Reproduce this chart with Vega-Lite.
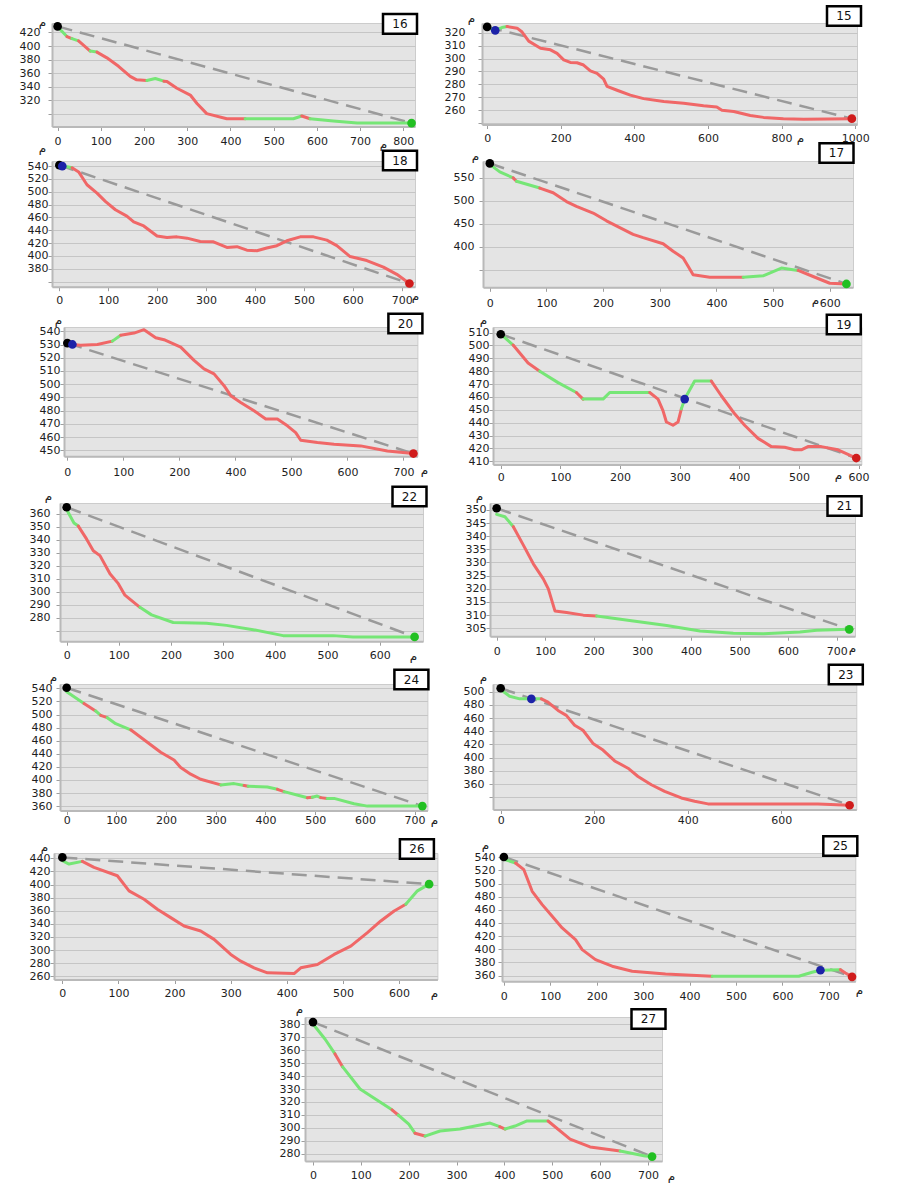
{
"$schema":"https://vega.github.io/schema/vega-lite/v6.json",
"background":"white",
"padding":{"left":2,"top":0,"right":5,"bottom":2},
"autosize":{"type":"pad"},
"bounds":"full","spacing":-40,
"datasets":{
"L":[
{"p":16,"s":1,"c":"g","d":0,"e":428.5},{"p":16,"s":1,"c":"g","d":21.6,"e":414},
{"p":16,"s":2,"c":"r","d":21.6,"e":414},{"p":16,"s":2,"c":"r","d":33,"e":411},
{"p":16,"s":3,"c":"g","d":33,"e":411},{"p":16,"s":3,"c":"g","d":48.5,"e":407.5},
{"p":16,"s":4,"c":"r","d":48.5,"e":407.5},{"p":16,"s":4,"c":"r","d":75.5,"e":392.5},
{"p":16,"s":5,"c":"g","d":75.5,"e":392.5},{"p":16,"s":5,"c":"g","d":91,"e":391},
{"p":16,"s":6,"c":"r","d":91,"e":391},{"p":16,"s":6,"c":"r","d":114,"e":382.5},{"p":16,"s":6,"c":"r","d":141,"e":370},{"p":16,"s":6,"c":"r","d":168,"e":355},{"p":16,"s":6,"c":"r","d":183,"e":350},{"p":16,"s":6,"c":"r","d":206.5,"e":349},
{"p":16,"s":7,"c":"g","d":206.5,"e":349},{"p":16,"s":7,"c":"g","d":226,"e":352},{"p":16,"s":7,"c":"g","d":246,"e":348},
{"p":16,"s":8,"c":"r","d":246,"e":348},{"p":16,"s":8,"c":"r","d":253,"e":347.5},{"p":16,"s":8,"c":"r","d":276,"e":337.5},{"p":16,"s":8,"c":"r","d":307,"e":327.5},{"p":16,"s":8,"c":"r","d":322.5,"e":315},{"p":16,"s":8,"c":"r","d":345,"e":300},{"p":16,"s":8,"c":"r","d":391.5,"e":292.5},{"p":16,"s":8,"c":"r","d":434,"e":292.5},
{"p":16,"s":9,"c":"g","d":434,"e":292.5},{"p":16,"s":9,"c":"g","d":545.5,"e":292.5},{"p":16,"s":9,"c":"g","d":565,"e":296.5},
{"p":16,"s":10,"c":"r","d":565,"e":296.5},{"p":16,"s":10,"c":"r","d":584,"e":292.5},
{"p":16,"s":11,"c":"g","d":584,"e":292.5},{"p":16,"s":11,"c":"g","d":638,"e":289},{"p":16,"s":11,"c":"g","d":693,"e":286},{"p":16,"s":11,"c":"g","d":819,"e":286},

{"p":15,"s":1,"c":"g","d":0,"e":324},{"p":15,"s":1,"c":"g","d":22,"e":322},{"p":15,"s":1,"c":"g","d":40,"e":324},{"p":15,"s":1,"c":"g","d":54,"e":324.75},
{"p":15,"s":2,"c":"r","d":54,"e":324.75},{"p":15,"s":2,"c":"r","d":81.4,"e":323.5},{"p":15,"s":2,"c":"r","d":95,"e":320.5},{"p":15,"s":2,"c":"r","d":113,"e":313.5},{"p":15,"s":2,"c":"r","d":145,"e":308},{"p":15,"s":2,"c":"r","d":172,"e":306.75},{"p":15,"s":2,"c":"r","d":190,"e":304},{"p":15,"s":2,"c":"r","d":208,"e":299},{"p":15,"s":2,"c":"r","d":226,"e":297},{"p":15,"s":2,"c":"r","d":244,"e":296.75},{"p":15,"s":2,"c":"r","d":262,"e":295},{"p":15,"s":2,"c":"r","d":280.5,"e":290.5},{"p":15,"s":2,"c":"r","d":298.6,"e":288.5},{"p":15,"s":2,"c":"r","d":316.7,"e":284},{"p":15,"s":2,"c":"r","d":325.8,"e":278.5},{"p":15,"s":2,"c":"r","d":353,"e":275.5},{"p":15,"s":2,"c":"r","d":389,"e":271.75},{"p":15,"s":2,"c":"r","d":425,"e":269},{"p":15,"s":2,"c":"r","d":480,"e":266.75},{"p":15,"s":2,"c":"r","d":534,"e":265.5},{"p":15,"s":2,"c":"r","d":588,"e":263.5},{"p":15,"s":2,"c":"r","d":624,"e":262.5},{"p":15,"s":2,"c":"r","d":638,"e":260},{"p":15,"s":2,"c":"r","d":670,"e":259},{"p":15,"s":2,"c":"r","d":715,"e":256},{"p":15,"s":2,"c":"r","d":751,"e":254.5},{"p":15,"s":2,"c":"r","d":805,"e":253.5},{"p":15,"s":2,"c":"r","d":860,"e":253},{"p":15,"s":2,"c":"r","d":991,"e":253.5},

{"p":18,"s":1,"c":"g","d":0,"e":541.5},{"p":18,"s":1,"c":"g","d":6,"e":540},{"p":18,"s":1,"c":"g","d":16,"e":539},{"p":18,"s":1,"c":"g","d":26,"e":537.5},
{"p":18,"s":2,"c":"r","d":26,"e":537.5},{"p":18,"s":2,"c":"r","d":39.5,"e":531},{"p":18,"s":2,"c":"r","d":56.5,"e":511},{"p":18,"s":2,"c":"r","d":77,"e":498},{"p":18,"s":2,"c":"r","d":94,"e":485},{"p":18,"s":2,"c":"r","d":114.6,"e":472},{"p":18,"s":2,"c":"r","d":138,"e":462},{"p":18,"s":2,"c":"r","d":152,"e":453},{"p":18,"s":2,"c":"r","d":172.5,"e":446.7},{"p":18,"s":2,"c":"r","d":199.7,"e":431},{"p":18,"s":2,"c":"r","d":220,"e":428.7},{"p":18,"s":2,"c":"r","d":240.5,"e":429.7},{"p":18,"s":2,"c":"r","d":261,"e":427.7},{"p":18,"s":2,"c":"r","d":288,"e":422.6},{"p":18,"s":2,"c":"r","d":315,"e":422},{"p":18,"s":2,"c":"r","d":342.5,"e":413.3},{"p":18,"s":2,"c":"r","d":363,"e":414.4},{"p":18,"s":2,"c":"r","d":383.4,"e":409},{"p":18,"s":2,"c":"r","d":403.8,"e":408},{"p":18,"s":2,"c":"r","d":424,"e":412.3},{"p":18,"s":2,"c":"r","d":444.6,"e":415.9},{"p":18,"s":2,"c":"r","d":465,"e":423.6},{"p":18,"s":2,"c":"r","d":492.3,"e":429.7},{"p":18,"s":2,"c":"r","d":519.5,"e":429.7},{"p":18,"s":2,"c":"r","d":546.8,"e":424.6},{"p":18,"s":2,"c":"r","d":567.2,"e":416},{"p":18,"s":2,"c":"r","d":594.4,"e":399},{"p":18,"s":2,"c":"r","d":628.5,"e":392.8},{"p":18,"s":2,"c":"r","d":662.5,"e":382.6},{"p":18,"s":2,"c":"r","d":689.8,"e":371.3},{"p":18,"s":2,"c":"r","d":715.6,"e":357},

{"p":17,"s":1,"c":"g","d":0,"e":579.4},{"p":17,"s":1,"c":"g","d":17.6,"e":563.2},{"p":17,"s":1,"c":"g","d":41.2,"e":550},
{"p":17,"s":2,"c":"r","d":41.2,"e":550},{"p":17,"s":2,"c":"r","d":47.1,"e":542.6},
{"p":17,"s":3,"c":"g","d":47.1,"e":542.6},{"p":17,"s":3,"c":"g","d":88.2,"e":527.9},
{"p":17,"s":4,"c":"r","d":88.2,"e":527.9},{"p":17,"s":4,"c":"r","d":111.8,"e":517.6},{"p":17,"s":4,"c":"r","d":135.3,"e":498.5},{"p":17,"s":4,"c":"r","d":152.9,"e":488.2},{"p":17,"s":4,"c":"r","d":182.4,"e":473.5},{"p":17,"s":4,"c":"r","d":205.9,"e":456.6},{"p":17,"s":4,"c":"r","d":229.4,"e":441.9},{"p":17,"s":4,"c":"r","d":252.9,"e":427.2},{"p":17,"s":4,"c":"r","d":270.6,"e":419.9},{"p":17,"s":4,"c":"r","d":305.9,"e":406.6},{"p":17,"s":4,"c":"r","d":323.5,"e":390.4},{"p":17,"s":4,"c":"r","d":341.2,"e":375.7},{"p":17,"s":4,"c":"r","d":350,"e":357.4},{"p":17,"s":4,"c":"r","d":358.8,"e":339},{"p":17,"s":4,"c":"r","d":388.2,"e":333.8},{"p":17,"s":4,"c":"r","d":447.1,"e":333.8},
{"p":17,"s":5,"c":"g","d":447.1,"e":333.8},{"p":17,"s":5,"c":"g","d":482.4,"e":336.8},{"p":17,"s":5,"c":"g","d":514.7,"e":353.7},{"p":17,"s":5,"c":"g","d":544.1,"e":348.5},
{"p":17,"s":6,"c":"r","d":544.1,"e":348.5},{"p":17,"s":6,"c":"r","d":570.6,"e":335.3},{"p":17,"s":6,"c":"r","d":600,"e":320.6},{"p":17,"s":6,"c":"r","d":629.4,"e":319.1},

{"p":20,"s":1,"c":"r","d":0,"e":531.1},{"p":20,"s":1,"c":"r","d":9,"e":530.1},{"p":20,"s":1,"c":"r","d":23.8,"e":529.4},{"p":20,"s":1,"c":"r","d":53.6,"e":530.1},{"p":20,"s":1,"c":"r","d":80.4,"e":532.6},
{"p":20,"s":2,"c":"g","d":80.4,"e":532.6},{"p":20,"s":2,"c":"g","d":95.2,"e":537},
{"p":20,"s":3,"c":"r","d":95.2,"e":537},{"p":20,"s":3,"c":"r","d":119,"e":538.7},{"p":20,"s":3,"c":"r","d":136.9,"e":541.3},{"p":20,"s":3,"c":"r","d":157.7,"e":535.2},{"p":20,"s":3,"c":"r","d":172.6,"e":533.7},{"p":20,"s":3,"c":"r","d":202.4,"e":528.1},{"p":20,"s":3,"c":"r","d":226.2,"e":518},{"p":20,"s":3,"c":"r","d":244,"e":511.6},{"p":20,"s":3,"c":"r","d":261.9,"e":507.8},{"p":20,"s":3,"c":"r","d":279.8,"e":498.9},{"p":20,"s":3,"c":"r","d":291.7,"e":491.3},{"p":20,"s":3,"c":"r","d":309.5,"e":486.2},{"p":20,"s":3,"c":"r","d":333.3,"e":479.9},{"p":20,"s":3,"c":"r","d":354.2,"e":473.6},{"p":20,"s":3,"c":"r","d":375,"e":473.6},{"p":20,"s":3,"c":"r","d":392.9,"e":468.5},{"p":20,"s":3,"c":"r","d":407.7,"e":463.4},{"p":20,"s":3,"c":"r","d":416.7,"e":457.6},{"p":20,"s":3,"c":"r","d":446.4,"e":455.8},{"p":20,"s":3,"c":"r","d":476.2,"e":454.6},{"p":20,"s":3,"c":"r","d":523.8,"e":453.3},{"p":20,"s":3,"c":"r","d":571.4,"e":449.5},{"p":20,"s":3,"c":"r","d":617.9,"e":447.5},

{"p":19,"s":1,"c":"g","d":0,"e":508.7},{"p":19,"s":1,"c":"g","d":20.7,"e":500.3},
{"p":19,"s":2,"c":"r","d":20.7,"e":500.3},{"p":19,"s":2,"c":"r","d":45.8,"e":486.3},{"p":19,"s":2,"c":"r","d":65.4,"e":480},
{"p":19,"s":3,"c":"g","d":65.4,"e":480},{"p":19,"s":3,"c":"g","d":96.1,"e":471.1},{"p":19,"s":3,"c":"g","d":126.8,"e":463.4},
{"p":19,"s":4,"c":"r","d":126.8,"e":463.4},{"p":19,"s":4,"c":"r","d":138,"e":458.3},
{"p":19,"s":5,"c":"g","d":138,"e":458.3},{"p":19,"s":5,"c":"g","d":171.5,"e":458.3},{"p":19,"s":5,"c":"g","d":182.7,"e":463.4},{"p":19,"s":5,"c":"g","d":249.7,"e":463.4},
{"p":19,"s":6,"c":"r","d":249.7,"e":463.4},{"p":19,"s":6,"c":"r","d":263.7,"e":458.3},{"p":19,"s":6,"c":"r","d":272,"e":449.4},{"p":19,"s":6,"c":"r","d":277.7,"e":440.5},{"p":19,"s":6,"c":"r","d":288.8,"e":438},{"p":19,"s":6,"c":"r","d":297.2,"e":440.5},{"p":19,"s":6,"c":"r","d":302.8,"e":450.7},
{"p":19,"s":7,"c":"g","d":302.8,"e":450.7},{"p":19,"s":7,"c":"g","d":308.4,"e":458.3},{"p":19,"s":7,"c":"g","d":325.1,"e":472.3},{"p":19,"s":7,"c":"g","d":353.1,"e":472.3},
{"p":19,"s":8,"c":"r","d":353.1,"e":472.3},{"p":19,"s":8,"c":"r","d":369.8,"e":460.9},{"p":19,"s":8,"c":"r","d":392.2,"e":446.9},{"p":19,"s":8,"c":"r","d":408.9,"e":438},{"p":19,"s":8,"c":"r","d":431.3,"e":427.8},{"p":19,"s":8,"c":"r","d":453.6,"e":421.4},{"p":19,"s":8,"c":"r","d":476,"e":420.9},{"p":19,"s":8,"c":"r","d":492.7,"e":418.9},{"p":19,"s":8,"c":"r","d":503.9,"e":418.9},{"p":19,"s":8,"c":"r","d":515.1,"e":421.4},{"p":19,"s":8,"c":"r","d":537.4,"e":421.4},{"p":19,"s":8,"c":"r","d":565.4,"e":418.9},{"p":19,"s":8,"c":"r","d":596.1,"e":412.5},

{"p":22,"s":1,"c":"g","d":0,"e":364},{"p":22,"s":1,"c":"g","d":3.2,"e":360.8},{"p":22,"s":1,"c":"g","d":14,"e":353},{"p":22,"s":1,"c":"g","d":22.3,"e":350.6},
{"p":22,"s":2,"c":"r","d":22.3,"e":350.6},{"p":22,"s":2,"c":"r","d":38.3,"e":340.5},{"p":22,"s":2,"c":"r","d":51,"e":331.6},{"p":22,"s":2,"c":"r","d":63.8,"e":327.8},{"p":22,"s":2,"c":"r","d":83,"e":313.8},{"p":22,"s":2,"c":"r","d":99,"e":306.2},{"p":22,"s":2,"c":"r","d":111.7,"e":297.3},{"p":22,"s":2,"c":"r","d":140.4,"e":287.9},
{"p":22,"s":3,"c":"g","d":140.4,"e":287.9},{"p":22,"s":3,"c":"g","d":162.7,"e":282.1},{"p":22,"s":3,"c":"g","d":204.2,"e":276.2},{"p":22,"s":3,"c":"g","d":268,"e":275.7},{"p":22,"s":3,"c":"g","d":306.3,"e":274},{"p":22,"s":3,"c":"g","d":357.4,"e":270.7},{"p":22,"s":3,"c":"g","d":414.8,"e":266.1},{"p":22,"s":3,"c":"g","d":510.5,"e":266.1},{"p":22,"s":3,"c":"g","d":548.8,"e":265.1},{"p":22,"s":3,"c":"g","d":666.9,"e":265.1},

{"p":21,"s":1,"c":"g","d":0,"e":348.3},{"p":21,"s":1,"c":"g","d":17,"e":347.4},{"p":21,"s":1,"c":"g","d":34.3,"e":343.6},
{"p":21,"s":2,"c":"r","d":34.3,"e":343.6},{"p":21,"s":2,"c":"r","d":55,"e":336.6},{"p":21,"s":2,"c":"r","d":75.5,"e":329.5},{"p":21,"s":2,"c":"r","d":96,"e":323.8},{"p":21,"s":2,"c":"r","d":106.4,"e":320},{"p":21,"s":2,"c":"r","d":120,"e":311.6},{"p":21,"s":2,"c":"r","d":144,"e":311},{"p":21,"s":2,"c":"r","d":178.4,"e":310},{"p":21,"s":2,"c":"r","d":206,"e":309.7},
{"p":21,"s":3,"c":"g","d":206,"e":309.7},{"p":21,"s":3,"c":"g","d":281.4,"e":307.8},{"p":21,"s":3,"c":"g","d":350,"e":306.1},{"p":21,"s":3,"c":"g","d":418.7,"e":304},{"p":21,"s":3,"c":"g","d":487.3,"e":303.1},{"p":21,"s":3,"c":"g","d":549,"e":302.9},{"p":21,"s":3,"c":"g","d":624.6,"e":303.6},{"p":21,"s":3,"c":"g","d":658.9,"e":304.3},{"p":21,"s":3,"c":"g","d":726,"e":304.6},

{"p":24,"s":1,"c":"g","d":0,"e":535},{"p":24,"s":1,"c":"g","d":34.9,"e":516.9},
{"p":24,"s":2,"c":"r","d":34.9,"e":516.9},{"p":24,"s":2,"c":"r","d":58.3,"e":505.5},
{"p":24,"s":3,"c":"g","d":58.3,"e":505.5},{"p":24,"s":3,"c":"g","d":68.4,"e":498.8},
{"p":24,"s":4,"c":"r","d":68.4,"e":498.8},{"p":24,"s":4,"c":"r","d":81.8,"e":495.2},
{"p":24,"s":5,"c":"g","d":81.8,"e":495.2},{"p":24,"s":5,"c":"g","d":98.6,"e":486},{"p":24,"s":5,"c":"g","d":128.8,"e":476.7},
{"p":24,"s":6,"c":"r","d":128.8,"e":476.7},{"p":24,"s":6,"c":"r","d":162.3,"e":457.7},{"p":24,"s":6,"c":"r","d":189.1,"e":442.3},{"p":24,"s":6,"c":"r","d":216,"e":430.4},{"p":24,"s":6,"c":"r","d":229.4,"e":419.1},{"p":24,"s":6,"c":"r","d":249.5,"e":408.8},{"p":24,"s":6,"c":"r","d":269.6,"e":401.1},{"p":24,"s":6,"c":"r","d":309.9,"e":392.4},
{"p":24,"s":7,"c":"g","d":309.9,"e":392.4},{"p":24,"s":7,"c":"g","d":336.8,"e":394.4},{"p":24,"s":7,"c":"g","d":357,"e":391.5},
{"p":24,"s":8,"c":"r","d":357,"e":391.5},{"p":24,"s":8,"c":"r","d":365,"e":390.3},
{"p":24,"s":9,"c":"g","d":365,"e":390.3},{"p":24,"s":9,"c":"g","d":403.8,"e":389.3},{"p":24,"s":9,"c":"g","d":424,"e":385.7},
{"p":24,"s":10,"c":"r","d":424,"e":385.7},{"p":24,"s":10,"c":"r","d":437.4,"e":382.1},
{"p":24,"s":11,"c":"g","d":437.4,"e":382.1},{"p":24,"s":11,"c":"g","d":471,"e":375.4},{"p":24,"s":11,"c":"g","d":484.4,"e":372.8},
{"p":24,"s":12,"c":"r","d":484.4,"e":372.8},{"p":24,"s":12,"c":"r","d":494,"e":373.5},
{"p":24,"s":13,"c":"g","d":494,"e":373.5},{"p":24,"s":13,"c":"g","d":504,"e":375.4},{"p":24,"s":13,"c":"g","d":511,"e":373},
{"p":24,"s":14,"c":"r","d":511,"e":373},{"p":24,"s":14,"c":"r","d":524,"e":371.8},
{"p":24,"s":15,"c":"g","d":524,"e":371.8},{"p":24,"s":15,"c":"g","d":538,"e":371.8},{"p":24,"s":15,"c":"g","d":578.2,"e":363.6},{"p":24,"s":15,"c":"g","d":605,"e":360},{"p":24,"s":15,"c":"g","d":715.6,"e":360},

{"p":23,"s":1,"c":"g","d":0,"e":503},{"p":23,"s":1,"c":"g","d":19.2,"e":493},{"p":23,"s":1,"c":"g","d":40.6,"e":489},{"p":23,"s":1,"c":"g","d":65.6,"e":489},{"p":23,"s":1,"c":"g","d":87,"e":489},
{"p":23,"s":2,"c":"r","d":87,"e":489},{"p":23,"s":2,"c":"r","d":101.2,"e":484},{"p":23,"s":2,"c":"r","d":122.6,"e":471.5},{"p":23,"s":2,"c":"r","d":140.4,"e":464},{"p":23,"s":2,"c":"r","d":158.2,"e":449},{"p":23,"s":2,"c":"r","d":176,"e":441.5},{"p":23,"s":2,"c":"r","d":197.4,"e":421.5},{"p":23,"s":2,"c":"r","d":218.8,"e":411.5},{"p":23,"s":2,"c":"r","d":243.8,"e":395},{"p":23,"s":2,"c":"r","d":272.3,"e":384},{"p":23,"s":2,"c":"r","d":293.7,"e":371.5},{"p":23,"s":2,"c":"r","d":322.2,"e":359},{"p":23,"s":2,"c":"r","d":350.7,"e":349},{"p":23,"s":2,"c":"r","d":386.3,"e":339},{"p":23,"s":2,"c":"r","d":414.8,"e":334},{"p":23,"s":2,"c":"r","d":443.3,"e":330},{"p":23,"s":2,"c":"r","d":678.5,"e":330},{"p":23,"s":2,"c":"r","d":746.2,"e":328},

{"p":26,"s":1,"c":"g","d":0,"e":436.4},{"p":26,"s":1,"c":"g","d":11.9,"e":431.3},{"p":26,"s":1,"c":"g","d":35.6,"e":435.4},
{"p":26,"s":2,"c":"r","d":35.6,"e":435.4},{"p":26,"s":2,"c":"r","d":56.4,"e":426.2},{"p":26,"s":2,"c":"r","d":98,"e":413.4},{"p":26,"s":2,"c":"r","d":118.8,"e":390.4},{"p":26,"s":2,"c":"r","d":145.6,"e":377.6},{"p":26,"s":2,"c":"r","d":169.3,"e":362.3},{"p":26,"s":2,"c":"r","d":193.1,"e":349.5},{"p":26,"s":2,"c":"r","d":216.9,"e":336.7},{"p":26,"s":2,"c":"r","d":246.6,"e":329},{"p":26,"s":2,"c":"r","d":270.4,"e":316.3},{"p":26,"s":2,"c":"r","d":300.1,"e":293.3},{"p":26,"s":2,"c":"r","d":318,"e":283},{"p":26,"s":2,"c":"r","d":341.7,"e":272.8},{"p":26,"s":2,"c":"r","d":365.5,"e":265.2},{"p":26,"s":2,"c":"r","d":413,"e":264.1},{"p":26,"s":2,"c":"r","d":424.9,"e":272.8},{"p":26,"s":2,"c":"r","d":454.6,"e":277.9},{"p":26,"s":2,"c":"r","d":484.3,"e":293.3},{"p":26,"s":2,"c":"r","d":514,"e":306},{"p":26,"s":2,"c":"r","d":543.7,"e":326.5},{"p":26,"s":2,"c":"r","d":567.5,"e":344.4},{"p":26,"s":2,"c":"r","d":591.3,"e":359.7},{"p":26,"s":2,"c":"r","d":612.1,"e":370},
{"p":26,"s":3,"c":"g","d":612.1,"e":370},{"p":26,"s":3,"c":"g","d":632.8,"e":390.4},{"p":26,"s":3,"c":"g","d":653.6,"e":400.6},

{"p":25,"s":1,"c":"g","d":0,"e":537},{"p":25,"s":1,"c":"g","d":25.1,"e":531.4},
{"p":25,"s":2,"c":"r","d":25.1,"e":531.4},{"p":25,"s":2,"c":"r","d":43.1,"e":521.2},{"p":25,"s":2,"c":"r","d":61,"e":488.3},{"p":25,"s":2,"c":"r","d":82.6,"e":468},{"p":25,"s":2,"c":"r","d":104.1,"e":450.2},{"p":25,"s":2,"c":"r","d":125.6,"e":432.5},{"p":25,"s":2,"c":"r","d":154.3,"e":414.7},{"p":25,"s":2,"c":"r","d":168.7,"e":399.5},{"p":25,"s":2,"c":"r","d":197.4,"e":384.3},{"p":25,"s":2,"c":"r","d":233.3,"e":374.2},{"p":25,"s":2,"c":"r","d":276.4,"e":366.6},{"p":25,"s":2,"c":"r","d":348.2,"e":362.5},{"p":25,"s":2,"c":"r","d":448.7,"e":359},
{"p":25,"s":3,"c":"g","d":448.7,"e":359},{"p":25,"s":3,"c":"g","d":635.3,"e":359},{"p":25,"s":3,"c":"g","d":664,"e":365},{"p":25,"s":3,"c":"g","d":681.9,"e":368.1},{"p":25,"s":3,"c":"g","d":725,"e":369},
{"p":25,"s":4,"c":"r","d":725,"e":369},{"p":25,"s":4,"c":"r","d":735.8,"e":364},{"p":25,"s":4,"c":"r","d":750,"e":358},

{"p":27,"s":1,"c":"g","d":0,"e":380},{"p":27,"s":1,"c":"g","d":25,"e":368.5},{"p":27,"s":1,"c":"g","d":46,"e":357},
{"p":27,"s":2,"c":"r","d":46,"e":357},{"p":27,"s":2,"c":"r","d":62,"e":347},
{"p":27,"s":3,"c":"g","d":62,"e":347},{"p":27,"s":3,"c":"g","d":98.2,"e":330},{"p":27,"s":3,"c":"g","d":140,"e":320},{"p":27,"s":3,"c":"g","d":165,"e":314},
{"p":27,"s":4,"c":"r","d":165,"e":314},{"p":27,"s":4,"c":"r","d":178,"e":310},
{"p":27,"s":5,"c":"g","d":178,"e":310},{"p":27,"s":5,"c":"g","d":200,"e":303},{"p":27,"s":5,"c":"g","d":213,"e":296},
{"p":27,"s":6,"c":"r","d":213,"e":296},{"p":27,"s":6,"c":"r","d":234,"e":293.8},
{"p":27,"s":7,"c":"g","d":234,"e":293.8},{"p":27,"s":7,"c":"g","d":265.4,"e":297.7},{"p":27,"s":7,"c":"g","d":307.1,"e":299.2},{"p":27,"s":7,"c":"g","d":349,"e":302.3},{"p":27,"s":7,"c":"g","d":369.9,"e":303.8},{"p":27,"s":7,"c":"g","d":390,"e":301},
{"p":27,"s":8,"c":"r","d":390,"e":301},{"p":27,"s":8,"c":"r","d":401.2,"e":299.2},
{"p":27,"s":9,"c":"g","d":401.2,"e":299.2},{"p":27,"s":9,"c":"g","d":422,"e":301.5},{"p":27,"s":9,"c":"g","d":447.1,"e":305.4},{"p":27,"s":9,"c":"g","d":491,"e":305.4},
{"p":27,"s":10,"c":"r","d":491,"e":305.4},{"p":27,"s":10,"c":"r","d":537,"e":291.5},{"p":27,"s":10,"c":"r","d":578.8,"e":285.4},{"p":27,"s":10,"c":"r","d":641.5,"e":282.3},
{"p":27,"s":11,"c":"g","d":641.5,"e":282.3},{"p":27,"s":11,"c":"g","d":693.7,"e":278.5},{"p":27,"s":11,"c":"g","d":708.3,"e":278}
],
"P":[
{"p":16,"k":"K","d":0,"e":429},{"p":16,"k":"G","d":819,"e":286},
{"p":15,"k":"K","d":0,"e":324.5},{"p":15,"k":"B","d":22,"e":321.75},{"p":15,"k":"R","d":991,"e":253.5},
{"p":18,"k":"K","d":0,"e":541.5},{"p":18,"k":"B","d":6,"e":540},{"p":18,"k":"R","d":715.6,"e":357},
{"p":17,"k":"K","d":0,"e":581.6},{"p":17,"k":"G","d":629.4,"e":319.1},
{"p":20,"k":"K","d":0,"e":531.1},{"p":20,"k":"B","d":9,"e":530.1},{"p":20,"k":"R","d":617.9,"e":447.5},
{"p":19,"k":"K","d":0,"e":508.7},{"p":19,"k":"B","d":308.4,"e":458.3},{"p":19,"k":"R","d":596.1,"e":412.5},
{"p":22,"k":"K","d":0,"e":365.1},{"p":22,"k":"G","d":666.9,"e":265.1},
{"p":21,"k":"K","d":0,"e":350.6},{"p":21,"k":"G","d":726,"e":304.6},
{"p":24,"k":"K","d":0,"e":541},{"p":24,"k":"G","d":715.6,"e":360},
{"p":23,"k":"K","d":0,"e":505},{"p":23,"k":"B","d":65.6,"e":489},{"p":23,"k":"R","d":746.2,"e":328},
{"p":26,"k":"K","d":0,"e":441.5},{"p":26,"k":"G","d":653.6,"e":400.6},
{"p":25,"k":"K","d":0,"e":540.5},{"p":25,"k":"B","d":681.9,"e":368.1},{"p":25,"k":"R","d":750,"e":358},
{"p":27,"k":"K","d":0,"e":381.5},{"p":27,"k":"G","d":708.3,"e":278}
]
},
"vconcat":[
{"bounds":"flush","spacing":0,"hconcat":[
 {"width":50,"height":138,"data":{"values":[{}]},"mark":{"type":"point","opacity":0,"size":1},"encoding":{"y":{"value":-22}},"view":{"fill":null,"stroke":null}},
 {"width":363,"height":103.5,
  "encoding":{"x":{"field":"d","type":"quantitative","scale":{"domain":[-13,827],"nice":false,"zero":false},"axis":{"values":[0,100,200,300,400,500,600,700,800],"format":"d","title":"م","titleX":331,"titleY":17,"labelPadding":5}},
   "y":{"field":"e","type":"quantitative","scale":{"domain":[281,434],"nice":false,"zero":false},"axis":{"values":[300,320,340,360,380,400,420],"labelExpr":"datum.value==300?'':datum.label","title":"م","titleX":-10,"titleY":-2,"labelPadding":8}}},
  "layer":[
   {"data":{"name":"P"},"transform":[{"filter":"datum.p==16 && datum.k!='B'"}],"mark":{"type":"line","color":"#9a9a9a","strokeWidth":2.5,"strokeDash":[15,8]},"encoding":{"order":{"field":"d"}}},
   {"data":{"name":"L"},"transform":[{"filter":"datum.p==16"}],"mark":{"type":"line","strokeWidth":3,"strokeCap":"round","strokeJoin":"round"},"encoding":{"color":{"field":"c","type":"nominal","scale":{"domain":["r","g","K","G","R","B"],"range":["#f06767","#76e676","#000000","#22c022","#d01c1c","#1c22a8"]},"legend":null},"detail":{"field":"s"},"order":{"field":"d"}}},
   {"data":{"name":"P"},"transform":[{"filter":"datum.p==16"}],"mark":{"type":"circle","size":75,"opacity":1},"encoding":{"color":{"field":"k","type":"nominal","scale":{"domain":["r","g","K","G","R","B"],"range":["#f06767","#76e676","#000000","#22c022","#d01c1c","#1c22a8"]},"legend":null}}},
   {"data":{"values":[{"n":"16"}]},"mark":{"type":"point","shape":"M-1,-0.58H1V0.58H-1Z","size":1156,"filled":true,"fill":"#ffffff","stroke":"#000000","strokeWidth":2.5,"opacity":1,"xOffset":-15,"yOffset":0.8},"encoding":{"x":{"value":"width"},"y":{"value":0}}},
   {"data":{"values":[{"n":"16"}]},"mark":{"type":"text","font":"DejaVu Sans","fontSize":12,"color":"#111111","xOffset":-15,"yOffset":0.8},"encoding":{"x":{"value":"width"},"y":{"value":0},"text":{"field":"n"}}}
  ]},
 {"width":67,"height":1,"data":{"values":[{}]},"mark":{"type":"text","text":""},"view":{"fill":null,"stroke":null}},
 {"width":375,"height":101.5,
  "encoding":{"x":{"field":"d","type":"quantitative","scale":{"domain":[-14,1005],"nice":false,"zero":false},"axis":{"values":[0,200,400,600,800,1000],"format":"d","title":"م","titleX":318,"titleY":13,"labelPadding":4}},
   "y":{"field":"e","type":"quantitative","scale":{"domain":[249,327.5],"nice":false,"zero":false},"axis":{"values":[250,260,270,280,290,300,310,320],"labelExpr":"datum.value==250?'':datum.label","title":"م","titleX":-11,"titleY":-5.8,"labelPadding":13}}},
  "layer":[
   {"data":{"name":"P"},"transform":[{"filter":"datum.p==15 && datum.k!='B'"}],"mark":{"type":"line","color":"#9a9a9a","strokeWidth":2.5,"strokeDash":[15,8]},"encoding":{"order":{"field":"d"}}},
   {"data":{"name":"L"},"transform":[{"filter":"datum.p==15"}],"mark":{"type":"line","strokeWidth":3,"strokeCap":"round","strokeJoin":"round"},"encoding":{"color":{"field":"c","type":"nominal","scale":{"domain":["r","g","K","G","R","B"],"range":["#f06767","#76e676","#000000","#22c022","#d01c1c","#1c22a8"]},"legend":null},"detail":{"field":"s"},"order":{"field":"d"}}},
   {"data":{"name":"P"},"transform":[{"filter":"datum.p==15"}],"mark":{"type":"circle","size":75,"opacity":1},"encoding":{"color":{"field":"k","type":"nominal","scale":{"domain":["r","g","K","G","R","B"],"range":["#f06767","#76e676","#000000","#22c022","#d01c1c","#1c22a8"]},"legend":null}}},
   {"data":{"values":[{"n":"15"}]},"mark":{"type":"point","shape":"M-1,-0.58H1V0.58H-1Z","size":1156,"filled":true,"fill":"#ffffff","stroke":"#000000","strokeWidth":2.5,"opacity":1,"xOffset":-13,"yOffset":-7},"encoding":{"x":{"value":"width"},"y":{"value":0}}},
   {"data":{"values":[{"n":"15"}]},"mark":{"type":"text","font":"DejaVu Sans","fontSize":12,"color":"#111111","xOffset":-13,"yOffset":-7},"encoding":{"x":{"value":"width"},"y":{"value":0},"text":{"field":"n"}}}
  ]}
]},
{"bounds":"flush","spacing":0,"hconcat":[
 {"width":50,"height":166,"data":{"values":[{}]},"mark":{"type":"point","opacity":0,"size":1},"encoding":{"y":{"value":-22}},"view":{"fill":null,"stroke":null}},
 {"width":363,"height":125.7,
  "encoding":{"x":{"field":"d","type":"quantitative","scale":{"domain":[-15,727],"nice":false,"zero":false},"axis":{"values":[0,100,200,300,400,500,600,700],"format":"d","title":"م","titleX":363,"titleY":9,"labelPadding":4}},
   "y":{"field":"e","type":"quantitative","scale":{"domain":[352,548],"nice":false,"zero":false},"axis":{"values":[360,380,400,420,440,460,480,500,520,540],"labelExpr":"datum.value==360?'':datum.label","title":"م","titleX":-10,"titleY":-14,"labelPadding":0}}},
  "layer":[
   {"data":{"name":"P"},"transform":[{"filter":"datum.p==18 && datum.k!='B'"}],"mark":{"type":"line","color":"#9a9a9a","strokeWidth":2.5,"strokeDash":[15,8]},"encoding":{"order":{"field":"d"}}},
   {"data":{"name":"L"},"transform":[{"filter":"datum.p==18"}],"mark":{"type":"line","strokeWidth":3,"strokeCap":"round","strokeJoin":"round"},"encoding":{"color":{"field":"c","type":"nominal","scale":{"domain":["r","g","K","G","R","B"],"range":["#f06767","#76e676","#000000","#22c022","#d01c1c","#1c22a8"]},"legend":null},"detail":{"field":"s"},"order":{"field":"d"}}},
   {"data":{"name":"P"},"transform":[{"filter":"datum.p==18"}],"mark":{"type":"circle","size":75,"opacity":1},"encoding":{"color":{"field":"k","type":"nominal","scale":{"domain":["r","g","K","G","R","B"],"range":["#f06767","#76e676","#000000","#22c022","#d01c1c","#1c22a8"]},"legend":null}}},
   {"data":{"values":[{"n":"18"}]},"mark":{"type":"point","shape":"M-1,-0.58H1V0.58H-1Z","size":1156,"filled":true,"fill":"#ffffff","stroke":"#000000","strokeWidth":2.5,"opacity":1,"xOffset":-15,"yOffset":-0.5},"encoding":{"x":{"value":"width"},"y":{"value":0}}},
   {"data":{"values":[{"n":"18"}]},"mark":{"type":"text","font":"DejaVu Sans","fontSize":12,"color":"#111111","xOffset":-15,"yOffset":-0.5},"encoding":{"x":{"value":"width"},"y":{"value":0},"text":{"field":"n"}}}
  ]},
 {"width":68,"height":1,"data":{"values":[{}]},"mark":{"type":"text","text":""},"view":{"fill":null,"stroke":null}},
 {"width":370,"height":126.3,
  "encoding":{"x":{"field":"d","type":"quantitative","scale":{"domain":[-12,641],"nice":false,"zero":false},"axis":{"values":[0,100,200,300,400,500,600],"format":"d","title":"م","titleX":332,"titleY":12,"labelPadding":6}},
   "y":{"field":"e","type":"quantitative","scale":{"domain":[311.8,586.8],"nice":false,"zero":false},"axis":{"values":[350,400,450,500,550],"labelExpr":"datum.value==350?'':datum.label","title":"م","titleX":-8,"titleY":-6,"labelPadding":5}}},
  "layer":[
   {"data":{"name":"P"},"transform":[{"filter":"datum.p==17 && datum.k!='B'"}],"mark":{"type":"line","color":"#9a9a9a","strokeWidth":2.5,"strokeDash":[15,8]},"encoding":{"order":{"field":"d"}}},
   {"data":{"name":"L"},"transform":[{"filter":"datum.p==17"}],"mark":{"type":"line","strokeWidth":3,"strokeCap":"round","strokeJoin":"round"},"encoding":{"color":{"field":"c","type":"nominal","scale":{"domain":["r","g","K","G","R","B"],"range":["#f06767","#76e676","#000000","#22c022","#d01c1c","#1c22a8"]},"legend":null},"detail":{"field":"s"},"order":{"field":"d"}}},
   {"data":{"name":"P"},"transform":[{"filter":"datum.p==17"}],"mark":{"type":"circle","size":75,"opacity":1},"encoding":{"color":{"field":"k","type":"nominal","scale":{"domain":["r","g","K","G","R","B"],"range":["#f06767","#76e676","#000000","#22c022","#d01c1c","#1c22a8"]},"legend":null}}},
   {"data":{"values":[{"n":"17"}]},"mark":{"type":"point","shape":"M-1,-0.58H1V0.58H-1Z","size":1156,"filled":true,"fill":"#ffffff","stroke":"#000000","strokeWidth":2.5,"opacity":1,"xOffset":-16.5,"yOffset":-8},"encoding":{"x":{"value":"width"},"y":{"value":0}}},
   {"data":{"values":[{"n":"17"}]},"mark":{"type":"text","font":"DejaVu Sans","fontSize":12,"color":"#111111","xOffset":-16.5,"yOffset":-8},"encoding":{"x":{"value":"width"},"y":{"value":0},"text":{"field":"n"}}}
  ]}
]},
{"bounds":"flush","spacing":0,"hconcat":[
 {"width":61.3,"height":175.5,"data":{"values":[{}]},"mark":{"type":"point","opacity":0,"size":1},"encoding":{"y":{"value":-22}},"view":{"fill":null,"stroke":null}},
 {"width":353.4,"height":129.2,
  "encoding":{"x":{"field":"d","type":"quantitative","scale":{"domain":[-6,625],"nice":false,"zero":false},"axis":{"values":[0,100,200,300,400,500,600],"format":"d","labelExpr":"datum.value>=300?format(datum.value+100,'d'):datum.label","title":"م","titleX":360,"titleY":13,"labelPadding":6}},
   "y":{"field":"e","type":"quantitative","scale":{"domain":[445.5,543.3],"nice":false,"zero":false},"axis":{"values":[450,460,470,480,490,500,510,520,530,540],"title":"م","titleX":-6,"titleY":-8,"labelPadding":0}}},
  "layer":[
   {"data":{"name":"P"},"transform":[{"filter":"datum.p==20 && datum.k!='B'"}],"mark":{"type":"line","color":"#9a9a9a","strokeWidth":2.5,"strokeDash":[15,8]},"encoding":{"order":{"field":"d"}}},
   {"data":{"name":"L"},"transform":[{"filter":"datum.p==20"}],"mark":{"type":"line","strokeWidth":3,"strokeCap":"round","strokeJoin":"round"},"encoding":{"color":{"field":"c","type":"nominal","scale":{"domain":["r","g","K","G","R","B"],"range":["#f06767","#76e676","#000000","#22c022","#d01c1c","#1c22a8"]},"legend":null},"detail":{"field":"s"},"order":{"field":"d"}}},
   {"data":{"name":"P"},"transform":[{"filter":"datum.p==20"}],"mark":{"type":"circle","size":75,"opacity":1},"encoding":{"color":{"field":"k","type":"nominal","scale":{"domain":["r","g","K","G","R","B"],"range":["#f06767","#76e676","#000000","#22c022","#d01c1c","#1c22a8"]},"legend":null}}},
   {"data":{"values":[{"n":"20"}]},"mark":{"type":"point","shape":"M-1,-0.58H1V0.58H-1Z","size":1156,"filled":true,"fill":"#ffffff","stroke":"#000000","strokeWidth":2.5,"opacity":1,"xOffset":-12,"yOffset":-3.5},"encoding":{"x":{"value":"width"},"y":{"value":0}}},
   {"data":{"values":[{"n":"20"}]},"mark":{"type":"text","font":"DejaVu Sans","fontSize":12,"color":"#111111","xOffset":-12,"yOffset":-3.5},"encoding":{"x":{"value":"width"},"y":{"value":0},"text":{"field":"n"}}}
  ]},
 {"width":75,"height":1,"data":{"values":[{}]},"mark":{"type":"text","text":""},"view":{"fill":null,"stroke":null}},
 {"width":368.3,"height":137.5,
  "encoding":{"x":{"field":"d","type":"quantitative","scale":{"domain":[-13,604.5],"nice":false,"zero":false},"axis":{"values":[0,100,200,300,400,500,600],"format":"d","title":"م","titleX":345,"titleY":10,"labelPadding":3}},
   "y":{"field":"e","type":"quantitative","scale":{"domain":[407.5,514.3],"nice":false,"zero":false},"axis":{"values":[410,420,430,440,450,460,470,480,490,500,510],"title":"م","titleX":-10,"titleY":-8,"labelPadding":0}}},
  "layer":[
   {"data":{"name":"P"},"transform":[{"filter":"datum.p==19 && datum.k!='B'"}],"mark":{"type":"line","color":"#9a9a9a","strokeWidth":2.5,"strokeDash":[15,8]},"encoding":{"order":{"field":"d"}}},
   {"data":{"name":"L"},"transform":[{"filter":"datum.p==19"}],"mark":{"type":"line","strokeWidth":3,"strokeCap":"round","strokeJoin":"round"},"encoding":{"color":{"field":"c","type":"nominal","scale":{"domain":["r","g","K","G","R","B"],"range":["#f06767","#76e676","#000000","#22c022","#d01c1c","#1c22a8"]},"legend":null},"detail":{"field":"s"},"order":{"field":"d"}}},
   {"data":{"name":"P"},"transform":[{"filter":"datum.p==19"}],"mark":{"type":"circle","size":75,"opacity":1},"encoding":{"color":{"field":"k","type":"nominal","scale":{"domain":["r","g","K","G","R","B"],"range":["#f06767","#76e676","#000000","#22c022","#d01c1c","#1c22a8"]},"legend":null}}},
   {"data":{"values":[{"n":"19"}]},"mark":{"type":"point","shape":"M-1,-0.58H1V0.58H-1Z","size":1156,"filled":true,"fill":"#ffffff","stroke":"#000000","strokeWidth":2.5,"opacity":1,"xOffset":-17.5,"yOffset":-2.5},"encoding":{"x":{"value":"width"},"y":{"value":0}}},
   {"data":{"values":[{"n":"19"}]},"mark":{"type":"text","font":"DejaVu Sans","fontSize":12,"color":"#111111","xOffset":-17.5,"yOffset":-2.5},"encoding":{"x":{"value":"width"},"y":{"value":0},"text":{"field":"n"}}}
  ]}
]},
{"bounds":"flush","spacing":0,"hconcat":[
 {"width":58,"height":180.5,"data":{"values":[{}]},"mark":{"type":"point","opacity":0,"size":1},"encoding":{"y":{"value":-22}},"view":{"fill":null,"stroke":null}},
 {"width":363,"height":138.2,
  "encoding":{"x":{"field":"d","type":"quantitative","scale":{"domain":[-12.8,683],"nice":false,"zero":false},"axis":{"values":[0,100,200,300,400,500,600],"format":"d","title":"م","titleX":353,"titleY":14,"labelPadding":4}},
   "y":{"field":"e","type":"quantitative","scale":{"domain":[261.8,368.4],"nice":false,"zero":false},"axis":{"values":[270,280,290,300,310,320,330,340,350,360],"labelExpr":"datum.value==270?'':datum.label","title":"م","titleX":-12,"titleY":-7.5,"labelPadding":6}}},
  "layer":[
   {"data":{"name":"P"},"transform":[{"filter":"datum.p==22 && datum.k!='B'"}],"mark":{"type":"line","color":"#9a9a9a","strokeWidth":2.5,"strokeDash":[15,8]},"encoding":{"order":{"field":"d"}}},
   {"data":{"name":"L"},"transform":[{"filter":"datum.p==22"}],"mark":{"type":"line","strokeWidth":3,"strokeCap":"round","strokeJoin":"round"},"encoding":{"color":{"field":"c","type":"nominal","scale":{"domain":["r","g","K","G","R","B"],"range":["#f06767","#76e676","#000000","#22c022","#d01c1c","#1c22a8"]},"legend":null},"detail":{"field":"s"},"order":{"field":"d"}}},
   {"data":{"name":"P"},"transform":[{"filter":"datum.p==22"}],"mark":{"type":"circle","size":75,"opacity":1},"encoding":{"color":{"field":"k","type":"nominal","scale":{"domain":["r","g","K","G","R","B"],"range":["#f06767","#76e676","#000000","#22c022","#d01c1c","#1c22a8"]},"legend":null}}},
   {"data":{"values":[{"n":"22"}]},"mark":{"type":"point","shape":"M-1,-0.58H1V0.58H-1Z","size":1156,"filled":true,"fill":"#ffffff","stroke":"#000000","strokeWidth":2.5,"opacity":1,"xOffset":-13.5,"yOffset":-6.5},"encoding":{"x":{"value":"width"},"y":{"value":0}}},
   {"data":{"values":[{"n":"22"}]},"mark":{"type":"text","font":"DejaVu Sans","fontSize":12,"color":"#111111","xOffset":-13.5,"yOffset":-6.5},"encoding":{"x":{"value":"width"},"y":{"value":0},"text":{"field":"n"}}}
  ]},
 {"width":67,"height":1,"data":{"values":[{}]},"mark":{"type":"text","text":""},"view":{"fill":null,"stroke":null}},
 {"width":365,"height":133.2,
  "encoding":{"x":{"field":"d","type":"quantitative","scale":{"domain":[-13.7,737.8],"nice":false,"zero":false},"axis":{"values":[0,100,200,300,400,500,600,700],"format":"d","title":"م","titleX":362,"titleY":11,"labelPadding":5}},
   "y":{"field":"e","type":"quantitative","scale":{"domain":[302,352.6],"nice":false,"zero":false},"axis":{"values":[305,310,315,320,325,330,335,340,345,350],"title":"م","titleX":-11,"titleY":-7.5,"labelPadding":0}}},
  "layer":[
   {"data":{"name":"P"},"transform":[{"filter":"datum.p==21 && datum.k!='B'"}],"mark":{"type":"line","color":"#9a9a9a","strokeWidth":2.5,"strokeDash":[15,8]},"encoding":{"order":{"field":"d"}}},
   {"data":{"name":"L"},"transform":[{"filter":"datum.p==21"}],"mark":{"type":"line","strokeWidth":3,"strokeCap":"round","strokeJoin":"round"},"encoding":{"color":{"field":"c","type":"nominal","scale":{"domain":["r","g","K","G","R","B"],"range":["#f06767","#76e676","#000000","#22c022","#d01c1c","#1c22a8"]},"legend":null},"detail":{"field":"s"},"order":{"field":"d"}}},
   {"data":{"name":"P"},"transform":[{"filter":"datum.p==21"}],"mark":{"type":"circle","size":75,"opacity":1},"encoding":{"color":{"field":"k","type":"nominal","scale":{"domain":["r","g","K","G","R","B"],"range":["#f06767","#76e676","#000000","#22c022","#d01c1c","#1c22a8"]},"legend":null}}},
   {"data":{"values":[{"n":"21"}]},"mark":{"type":"point","shape":"M-1,-0.58H1V0.58H-1Z","size":1156,"filled":true,"fill":"#ffffff","stroke":"#000000","strokeWidth":2.5,"opacity":1,"xOffset":-10.5,"yOffset":3},"encoding":{"x":{"value":"width"},"y":{"value":0}}},
   {"data":{"values":[{"n":"21"}]},"mark":{"type":"text","font":"DejaVu Sans","fontSize":12,"color":"#111111","xOffset":-10.5,"yOffset":3},"encoding":{"x":{"value":"width"},"y":{"value":0},"text":{"field":"n"}}}
  ]}
]},
{"bounds":"flush","spacing":0,"hconcat":[
 {"width":57.3,"height":168.5,"data":{"values":[{}]},"mark":{"type":"point","opacity":0,"size":1},"encoding":{"y":{"value":-22}},"view":{"fill":null,"stroke":null}},
 {"width":367.4,"height":126.5,
  "encoding":{"x":{"field":"d","type":"quantitative","scale":{"domain":[-13.4,725.7],"nice":false,"zero":false},"axis":{"values":[0,100,200,300,400,500,600,700],"format":"d","title":"م","titleX":374,"titleY":9,"labelPadding":0}},
   "y":{"field":"e","type":"quantitative","scale":{"domain":[353.3,546.7],"nice":false,"zero":false},"axis":{"values":[360,380,400,420,440,460,480,500,520,540],"title":"م","titleX":-7,"titleY":-7.5,"labelPadding":4}}},
  "layer":[
   {"data":{"name":"P"},"transform":[{"filter":"datum.p==24 && datum.k!='B'"}],"mark":{"type":"line","color":"#9a9a9a","strokeWidth":2.5,"strokeDash":[15,8]},"encoding":{"order":{"field":"d"}}},
   {"data":{"name":"L"},"transform":[{"filter":"datum.p==24"}],"mark":{"type":"line","strokeWidth":3,"strokeCap":"round","strokeJoin":"round"},"encoding":{"color":{"field":"c","type":"nominal","scale":{"domain":["r","g","K","G","R","B"],"range":["#f06767","#76e676","#000000","#22c022","#d01c1c","#1c22a8"]},"legend":null},"detail":{"field":"s"},"order":{"field":"d"}}},
   {"data":{"name":"P"},"transform":[{"filter":"datum.p==24"}],"mark":{"type":"circle","size":75,"opacity":1},"encoding":{"color":{"field":"k","type":"nominal","scale":{"domain":["r","g","K","G","R","B"],"range":["#f06767","#76e676","#000000","#22c022","#d01c1c","#1c22a8"]},"legend":null}}},
   {"data":{"values":[{"n":"24"}]},"mark":{"type":"point","shape":"M-1,-0.58H1V0.58H-1Z","size":1156,"filled":true,"fill":"#ffffff","stroke":"#000000","strokeWidth":2.5,"opacity":1,"xOffset":-16,"yOffset":-4.5},"encoding":{"x":{"value":"width"},"y":{"value":0}}},
   {"data":{"values":[{"n":"24"}]},"mark":{"type":"text","font":"DejaVu Sans","fontSize":12,"color":"#111111","xOffset":-16,"yOffset":-4.5},"encoding":{"x":{"value":"width"},"y":{"value":0},"text":{"field":"n"}}}
  ]},
 {"width":65,"height":1,"data":{"values":[{}]},"mark":{"type":"text","text":""},"view":{"fill":null,"stroke":null}},
 {"width":363.3,"height":125.5,
  "encoding":{"x":{"field":"d","type":"quantitative","scale":{"domain":[-16.4,760.5],"nice":false,"zero":false},"axis":{"values":[0,200,400,600],"format":"d","title":null,"labelPadding":1}},
   "y":{"field":"e","type":"quantitative","scale":{"domain":[321.5,511.5],"nice":false,"zero":false},"axis":{"values":[340,360,380,400,420,440,460,480,500],"labelExpr":"datum.value==340?'':datum.label","title":"م","titleX":-10,"titleY":-7.5,"labelPadding":5}}},
  "layer":[
   {"data":{"name":"P"},"transform":[{"filter":"datum.p==23 && datum.k!='B'"}],"mark":{"type":"line","color":"#9a9a9a","strokeWidth":2.5,"strokeDash":[15,8]},"encoding":{"order":{"field":"d"}}},
   {"data":{"name":"L"},"transform":[{"filter":"datum.p==23"}],"mark":{"type":"line","strokeWidth":3,"strokeCap":"round","strokeJoin":"round"},"encoding":{"color":{"field":"c","type":"nominal","scale":{"domain":["r","g","K","G","R","B"],"range":["#f06767","#76e676","#000000","#22c022","#d01c1c","#1c22a8"]},"legend":null},"detail":{"field":"s"},"order":{"field":"d"}}},
   {"data":{"name":"P"},"transform":[{"filter":"datum.p==23"}],"mark":{"type":"circle","size":75,"opacity":1},"encoding":{"color":{"field":"k","type":"nominal","scale":{"domain":["r","g","K","G","R","B"],"range":["#f06767","#76e676","#000000","#22c022","#d01c1c","#1c22a8"]},"legend":null}}},
   {"data":{"values":[{"n":"23"}]},"mark":{"type":"point","shape":"M-1,-0.58H1V0.58H-1Z","size":1156,"filled":true,"fill":"#ffffff","stroke":"#000000","strokeWidth":2.5,"opacity":1,"xOffset":-10.5,"yOffset":-9.5},"encoding":{"x":{"value":"width"},"y":{"value":0}}},
   {"data":{"values":[{"n":"23"}]},"mark":{"type":"text","font":"DejaVu Sans","fontSize":12,"color":"#111111","xOffset":-10.5,"yOffset":-9.5},"encoding":{"x":{"value":"width"},"y":{"value":0},"text":{"field":"n"}}}
  ]}
]},
{"bounds":"flush","spacing":0,"hconcat":[
 {"width":51.3,"height":164,"data":{"values":[{}]},"mark":{"type":"point","opacity":0,"size":1},"encoding":{"y":{"value":-22}},"view":{"fill":null,"stroke":null}},
 {"width":383.4,"height":126.5,
  "encoding":{"x":{"field":"d","type":"quantitative","scale":{"domain":[-14.9,668.4],"nice":false,"zero":false},"axis":{"values":[0,100,200,300,400,500,600],"format":"d","title":"م","titleX":380,"titleY":13,"labelPadding":4}},
   "y":{"field":"e","type":"quantitative","scale":{"domain":[255,448.2],"nice":false,"zero":false},"axis":{"values":[260,280,300,320,340,360,380,400,420,440],"title":"م","titleX":-10,"titleY":-6.5,"labelPadding":0}}},
  "layer":[
   {"data":{"name":"P"},"transform":[{"filter":"datum.p==26 && datum.k!='B'"}],"mark":{"type":"line","color":"#9a9a9a","strokeWidth":2.5,"strokeDash":[15,8]},"encoding":{"order":{"field":"d"}}},
   {"data":{"name":"L"},"transform":[{"filter":"datum.p==26"}],"mark":{"type":"line","strokeWidth":3,"strokeCap":"round","strokeJoin":"round"},"encoding":{"color":{"field":"c","type":"nominal","scale":{"domain":["r","g","K","G","R","B"],"range":["#f06767","#76e676","#000000","#22c022","#d01c1c","#1c22a8"]},"legend":null},"detail":{"field":"s"},"order":{"field":"d"}}},
   {"data":{"name":"P"},"transform":[{"filter":"datum.p==26"}],"mark":{"type":"circle","size":75,"opacity":1},"encoding":{"color":{"field":"k","type":"nominal","scale":{"domain":["r","g","K","G","R","B"],"range":["#f06767","#76e676","#000000","#22c022","#d01c1c","#1c22a8"]},"legend":null}}},
   {"data":{"values":[{"n":"26"}]},"mark":{"type":"point","shape":"M-1,-0.58H1V0.58H-1Z","size":1156,"filled":true,"fill":"#ffffff","stroke":"#000000","strokeWidth":2.5,"opacity":1,"xOffset":-20.5,"yOffset":-4},"encoding":{"x":{"value":"width"},"y":{"value":0}}},
   {"data":{"values":[{"n":"26"}]},"mark":{"type":"text","font":"DejaVu Sans","fontSize":12,"color":"#111111","xOffset":-20.5,"yOffset":-4},"encoding":{"x":{"value":"width"},"y":{"value":0},"text":{"field":"n"}}}
  ]},
 {"width":63.3,"height":1,"data":{"values":[{}]},"mark":{"type":"text","text":""},"view":{"fill":null,"stroke":null}},
 {"width":353.3,"height":128.2,
  "encoding":{"x":{"field":"d","type":"quantitative","scale":{"domain":[-4,757],"nice":false,"zero":false},"axis":{"values":[0,100,200,300,400,500,600,700],"format":"d","title":"م","titleX":357,"titleY":8,"labelPadding":5}},
   "y":{"field":"e","type":"quantitative","scale":{"domain":[351.4,546.6],"nice":false,"zero":false},"axis":{"values":[360,380,400,420,440,460,480,500,520,540],"title":"م","titleX":-17,"titleY":-8.5,"labelPadding":3}}},
  "layer":[
   {"data":{"name":"P"},"transform":[{"filter":"datum.p==25 && datum.k!='B'"}],"mark":{"type":"line","color":"#9a9a9a","strokeWidth":2.5,"strokeDash":[15,8]},"encoding":{"order":{"field":"d"}}},
   {"data":{"name":"L"},"transform":[{"filter":"datum.p==25"}],"mark":{"type":"line","strokeWidth":3,"strokeCap":"round","strokeJoin":"round"},"encoding":{"color":{"field":"c","type":"nominal","scale":{"domain":["r","g","K","G","R","B"],"range":["#f06767","#76e676","#000000","#22c022","#d01c1c","#1c22a8"]},"legend":null},"detail":{"field":"s"},"order":{"field":"d"}}},
   {"data":{"name":"P"},"transform":[{"filter":"datum.p==25"}],"mark":{"type":"circle","size":75,"opacity":1},"encoding":{"color":{"field":"k","type":"nominal","scale":{"domain":["r","g","K","G","R","B"],"range":["#f06767","#76e676","#000000","#22c022","#d01c1c","#1c22a8"]},"legend":null}}},
   {"data":{"values":[{"n":"25"}]},"mark":{"type":"point","shape":"M-1,-0.58H1V0.58H-1Z","size":1156,"filled":true,"fill":"#ffffff","stroke":"#000000","strokeWidth":2.5,"opacity":1,"xOffset":-15,"yOffset":-7},"encoding":{"x":{"value":"width"},"y":{"value":0}}},
   {"data":{"values":[{"n":"25"}]},"mark":{"type":"text","font":"DejaVu Sans","fontSize":12,"color":"#111111","xOffset":-15,"yOffset":-7},"encoding":{"x":{"value":"width"},"y":{"value":0},"text":{"field":"n"}}}
  ]}
]},
{"bounds":"flush","spacing":0,"hconcat":[
 {"width":303,"height":165,"data":{"values":[{}]},"mark":{"type":"point","opacity":0,"size":1},"encoding":{"y":{"value":-22}},"view":{"fill":null,"stroke":null}},
 {"width":357,"height":144,
  "encoding":{"x":{"field":"d","type":"quantitative","scale":{"domain":[-16.7,729],"nice":false,"zero":false},"axis":{"values":[0,100,200,300,400,500,600,700],"format":"d","title":"م","titleX":366,"titleY":14,"labelPadding":4}},
   "y":{"field":"e","type":"quantitative","scale":{"domain":[274.6,385.4],"nice":false,"zero":false},"axis":{"values":[280,290,300,310,320,330,340,350,360,370,380],"title":"م","titleX":-6,"titleY":-9,"labelPadding":1}}},
  "layer":[
   {"data":{"name":"P"},"transform":[{"filter":"datum.p==27 && datum.k!='B'"}],"mark":{"type":"line","color":"#9a9a9a","strokeWidth":2.5,"strokeDash":[15,8]},"encoding":{"order":{"field":"d"}}},
   {"data":{"name":"L"},"transform":[{"filter":"datum.p==27"}],"mark":{"type":"line","strokeWidth":3,"strokeCap":"round","strokeJoin":"round"},"encoding":{"color":{"field":"c","type":"nominal","scale":{"domain":["r","g","K","G","R","B"],"range":["#f06767","#76e676","#000000","#22c022","#d01c1c","#1c22a8"]},"legend":null},"detail":{"field":"s"},"order":{"field":"d"}}},
   {"data":{"name":"P"},"transform":[{"filter":"datum.p==27"}],"mark":{"type":"circle","size":75,"opacity":1},"encoding":{"color":{"field":"k","type":"nominal","scale":{"domain":["r","g","K","G","R","B"],"range":["#f06767","#76e676","#000000","#22c022","#d01c1c","#1c22a8"]},"legend":null}}},
   {"data":{"values":[{"n":"27"}]},"mark":{"type":"point","shape":"M-1,-0.58H1V0.58H-1Z","size":1156,"filled":true,"fill":"#ffffff","stroke":"#000000","strokeWidth":2.5,"opacity":1,"xOffset":-13.5,"yOffset":2},"encoding":{"x":{"value":"width"},"y":{"value":0}}},
   {"data":{"values":[{"n":"27"}]},"mark":{"type":"text","font":"DejaVu Sans","fontSize":12,"color":"#111111","xOffset":-13.5,"yOffset":2},"encoding":{"x":{"value":"width"},"y":{"value":0},"text":{"field":"n"}}}
  ]}
]}
],
"config":{
 "view":{"fill":"#e4e4e4","stroke":"#cccccc","strokeWidth":1},
 "axis":{"labelFont":"DejaVu Sans","labelFontSize":11,"labelColor":"#1e1e1e","titleFont":"DejaVu Sans","titleFontSize":12,"titleFontWeight":"normal","titleColor":"#1e1e1e","tickColor":"#9e9e9e","tickSize":4,"domainColor":"#b9b9b9","domainWidth":2,"labelOverlap":false,"labelFlush":false,"titleAngle":0,"titleAlign":"center","titleBaseline":"middle"},
 "axisX":{"grid":false},
 "axisY":{"grid":true,"gridColor":"#c5c5c5","gridWidth":1}
}
}
